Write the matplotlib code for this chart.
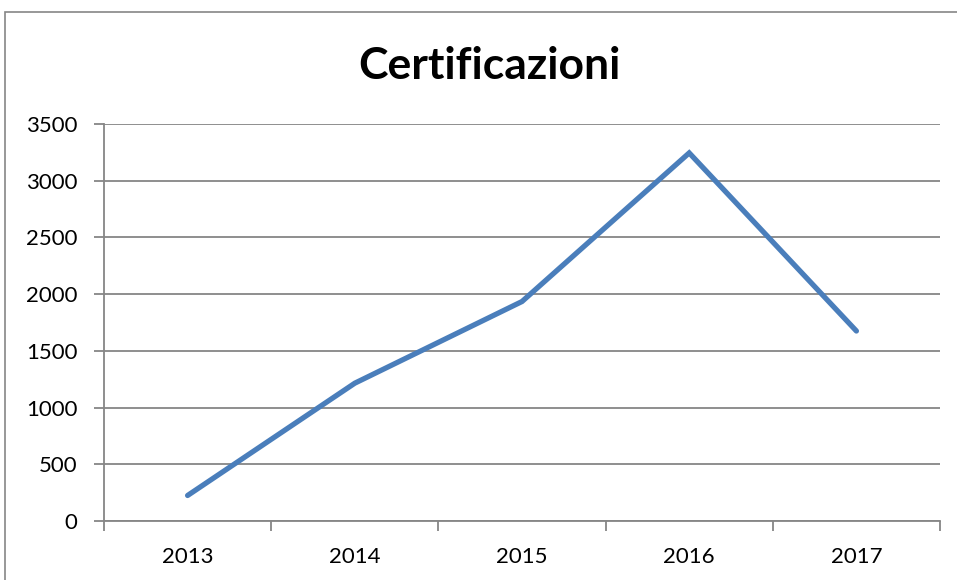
import matplotlib
matplotlib.use("Agg")
import matplotlib.pyplot as plt
from matplotlib.patches import Rectangle
import numpy as np

years = ["2013", "2014", "2015", "2016", "2017"]
values = [225, 1215, 1935, 3245, 1675]
yticks = [0, 500, 1000, 1500, 2000, 2500, 3000, 3500]
title = "Certificazioni"

plt.rcParams['font.family'] = ['Lato', 'DejaVu Sans']

W, H = 957, 580
fig = plt.figure(figsize=(W / 100, H / 100), dpi=100)
fig.patch.set_facecolor("white")

# outer chart border
fig.patches.append(Rectangle((4.5 / W, -0.1), 1.2, 1 - 11.5 / H + 0.1,
                             transform=fig.transFigure, fill=False,
                             edgecolor="#868686", linewidth=1.2))

ax = fig.add_axes([104 / W, 1 - 521 / H, (940 - 104) / W, (521 - 124) / H])
x = np.arange(len(years))
ax.plot(x, values, color="#4A7EBB", linewidth=3.8, solid_capstyle="round",
        solid_joinstyle="miter", zorder=3)

ax.set_xlim(-0.5, len(years) - 0.5)
ax.set_ylim(0, 3500)
ax.set_yticks(yticks)
ax.set_yticklabels([str(v) for v in yticks])
ax.yaxis.grid(True, color="#868686", linewidth=1.3)
ax.set_axisbelow(True)

ax.set_xticks(np.arange(-0.5, len(years), 1.0))
ax.set_xticklabels([])
ax.set_xticks(x, minor=True)
ax.set_xticklabels(years, minor=True)
ax.tick_params(axis="x", which="major", direction="out", length=7,
               width=1.3, color="#868686")
ax.tick_params(axis="x", which="minor", length=0, pad=19, labelsize=16)
ax.tick_params(axis="y", direction="out", length=7, width=1.3,
               color="#868686", pad=12, labelsize=16)

for s in ["top", "right"]:
    ax.spines[s].set_visible(False)
for s in ["left", "bottom"]:
    ax.spines[s].set_color("#868686")
    ax.spines[s].set_linewidth(1.3)

fig.text(489 / W, 1 - 66 / H, title, ha="center", va="center",
         fontsize=32, fontweight="bold")

fig.savefig("out.png", dpi=100)
